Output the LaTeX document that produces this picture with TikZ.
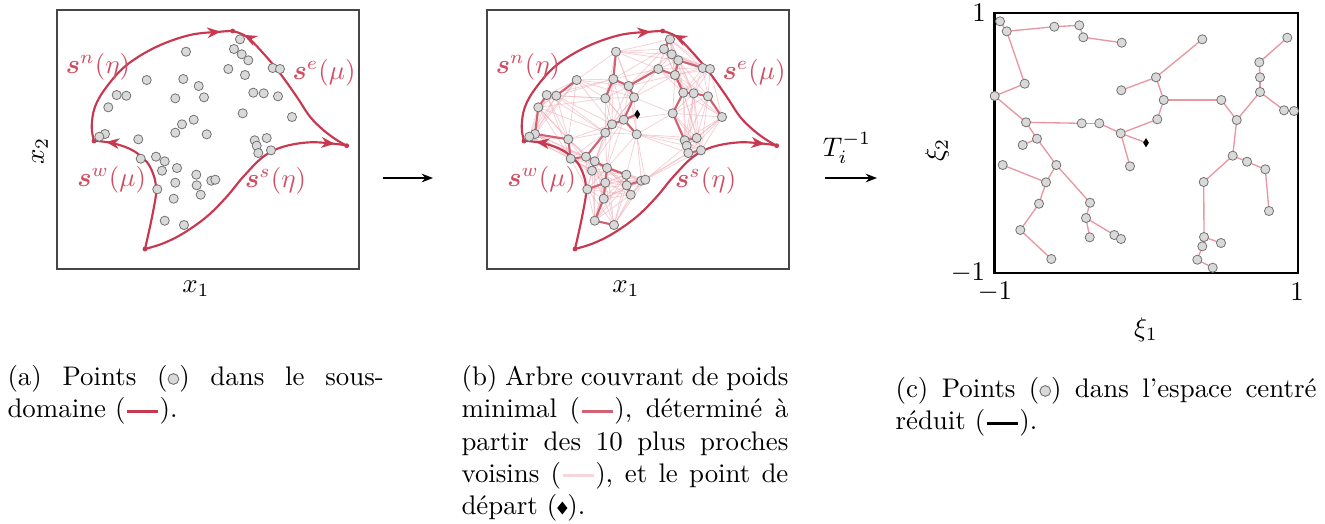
\documentclass[tikz,border=0pt]{standalone}
\usepackage{amsmath,amssymb}
\usetikzlibrary{arrows.meta,decorations.markings,shapes.geometric}
\definecolor{bnd}{RGB}{200,56,80}
\definecolor{bndtxt}{RGB}{208,78,98}
\definecolor{mstc}{RGB}{208,98,115}
\definecolor{knnc}{RGB}{236,172,182}
\definecolor{knnleg}{RGB}{246,214,220}
\definecolor{treec}{RGB}{234,150,162}
\definecolor{ptfill}{RGB}{217,217,217}
\definecolor{ptdraw}{RGB}{115,115,115}
\definecolor{boxc}{RGB}{70,70,70}
\pgfdeclarelayer{knnl}
\pgfdeclarelayer{mstl}
\pgfsetlayers{knnl,mstl,main}
\newcount\knk \newcount\kncnt
\newdimen\kndx \newdimen\kndy \newdimen\kndd
\newcommand{\knncount}[2]{%
  \kncnt=0 \knk=1
  \loop
    \ifnum\knk=#1\relax\else
      \ifdim\csname kd#1:\the\knk\endcsname<\csname kd#1:#2\endcsname\relax
        \advance\kncnt by 1\relax
      \fi
    \fi
    \advance\knk by 1\relax
  \ifnum\knk<50\relax\repeat}
\newcommand{\legpt}{\tikz[baseline=-2.5pt]\draw[ptdraw,fill=ptfill,line width=0.35pt] (0pt,0pt) circle (2pt);}
\newcommand{\legline}[2]{\tikz[baseline=-2.5pt]\draw[#1,line width=#2] (0pt,0pt) -- (11.5pt,0pt);}
\newcommand{\legdia}{\tikz[baseline=-2.5pt]\fill[black] (0pt,2.4pt) -- (1.9pt,0pt) -- (0pt,-2.4pt) -- (-1.9pt,0pt) -- cycle;}
\def\PTS{240.0/39.3, 234.0/49.0, 241.7/54.3, 248.3/60.3, 186.0/51.7, 228.3/69.0, 245.0/75.0, 272.7/68.0, 280.0/69.0, 146.7/80.0, 183.3/79.0, 198.7/86.0, 116.7/95.0, 126.3/95.7, 175.3/98.3, 204.0/97.3, 253.3/92.7, 263.7/93.3, 278.0/96.3, 108.3/107.3, 242.7/113.3, 292.0/117.0, 182.0/124.3, 193.7/119.7, 175.3/132.7, 206.7/134.3, 105.0/134.0, 99.3/136.7, 138.3/139.3, 254.7/140.3, 266.7/138.0, 256.7/145.7, 258.3/153.0, 271.0/150.3, 140.7/158.7, 156.0/156.7, 164.7/161.3, 177.0/168.0, 162.0/170.7, 196.3/174.7, 175.3/182.7, 196.7/185.3, 211.3/180.7, 215.3/179.7, 157.3/189.3, 200.7/194.7, 173.7/198.7, 164.7/220.7, 184.0/225.0}
\def\CPTS{1287.3/37.7, 1259.3/62.3, 1260.0/77.3, 1260.0/92.0, 1202.3/39.3, 1221.3/100.0, 1236.7/120.0, 1284.0/110.3, 1294.0/111.0, 1121.7/42.7, 1156.0/77.3, 1163.7/100.0, 1079.3/25.3, 1083.3/37.3, 1121.3/90.3, 1157.3/119.3, 1232.7/155.7, 1247.0/161.7, 1265.3/169.3, 1054.3/26.7, 1203.7/182.0, 1269.0/211.0, 1099.3/123.3, 1120.7/133.3, 1081.7/123.3, 1130.0/166.3, 1006.7/31.3, 1000.0/21.3, 1024.7/83.7, 1204.0/237.0, 1221.0/243.0, 1202.3/246.3, 1197.3/259.7, 1212.7/267.7, 994.7/96.0, 1026.0/122.3, 1037.0/138.7, 1056.3/165.0, 1022.7/145.0, 1090.0/202.7, 1046.0/182.3, 1086.0/218.0, 1114.3/235.0, 1121.0/239.0, 1002.7/165.0, 1089.7/237.3, 1039.0/203.7, 1020.3/230.0, 1051.3/259.0}
\def\MST{28/27, 27/20, 20/13, 13/14, 14/10, 27/29, 29/35, 35/36, 36/25, 25/23, 23/24, 24/16, 16/12, 12/11, 11/15, 11/5, 12/6, 6/7, 7/4, 4/3, 3/2, 2/1, 4/8, 8/9, 7/17, 17/18, 18/19, 19/22, 17/21, 21/30, 30/31, 30/32, 32/33, 33/34, 24/26, 36/37, 37/39, 37/38, 38/41, 41/45, 41/47, 47/48, 48/49, 38/40, 40/42, 42/46, 42/43, 43/44, 24/D}
\newcommand{\domaincurves}[1]{%
  \draw[bndline,arrmark=0.94] plot[smooth,tension=0.6] coordinates {(94,141) (91.7,126.7) (95,106.7) (106.7,86.7) (126.7,65) (156.7,46.7) (190,35) (220,31.7) (232.7,31)};
  \draw[bndline,arrmark=0.93] plot[smooth,tension=0.6] coordinates {(346.7,145.7) (336.7,140) (323.3,130) (310,116.7) (296.7,96.7) (280,73.3) (263.3,53.3) (246.7,36.7) (232.7,31)};
  \draw[bndline,arrmark=0.95] plot[smooth,tension=0.6] coordinates {(145,249) (163.3,243.3) (183.3,233.3) (206.7,216.7) (226.7,196.7) (243.3,176.7) (263.3,156.7) (283.3,146.7) (310,142.3) (336.7,144) (346.7,145.7)};
  \draw[bndline,arrmark=0.92] plot[smooth,tension=0.6] coordinates {(145,249) (150,226.7) (154,206.7) (156,193.3) (155,180) (150,166.7) (143.3,158.3) (133.3,150.7) (121.7,145.7) (108.3,142.3) (94,140.7)};
  \fill[bnd] (94,141) circle (0.9pt);
  \fill[bnd] (232.7,31) circle (0.9pt);
  \fill[bnd] (346.7,145.7) circle (0.9pt);
  \fill[bnd] (145,249) circle (0.9pt);
  \node[lbl] (#1sn) at (98,66.7) {$\boldsymbol{s}^n(\eta)$};
  \node[lbl] (#1se) at (324,72.3) {$\boldsymbol{s}^e(\mu)$};
  \node[lbl] (#1sw) at (111.7,180) {$\boldsymbol{s}^w(\mu)$};
  \node[lbl] (#1ss) at (275.7,180.7) {$\boldsymbol{s}^s(\eta)$};
  \draw[boxc,line width=0.5pt] (57,10) rectangle (359,269);
  \node (#1x1) at (196,289) {$x_1$};
}
\begin{document}
\begin{tikzpicture}[x=0.372pt,y=-0.372pt,
  pt/.style={circle,draw=ptdraw,fill=ptfill,line width=0.3pt,inner sep=0pt,minimum size=3.4pt},
  dia/.style={diamond,fill=black,inner sep=0pt,minimum width=2.3pt,minimum height=3.6pt},
  bndline/.style={bnd,line width=0.8pt},
  arrmark/.style={postaction={decorate,decoration={markings,mark=at position #1 with {\arrow{Stealth[length=5pt,width=4pt]}}}}},
  lbl/.style={text=bndtxt,inner sep=0pt},
  knnline/.style={knnc,line width=0.3pt,draw opacity=0.55},
  mstline/.style={mstc,line width=0.8pt},
  treeline/.style={treec,line width=0.5pt},
  capt/.style={anchor=north west,inner sep=0pt,align=justify},
  flow/.style={line width=0.6pt,-{Stealth[length=4.2pt,width=3.2pt]}}]
\useasboundingbox (0,0) rectangle (1325,523);
% captions
\node[capt,text width=140pt] (capa) at (7,365) {(a) Points (\legpt) dans le sous-\linebreak domaine (\legline{bnd}{1.2pt}).};
\node[capt,text width=121.6pt] (capb) at (461,365) {(b) Arbre couvrant de poids\linebreak minimal (\legline{mstc}{1.2pt}), déterminé à\linebreak partir des 10 plus proches\linebreak voisins (\legline{knnleg}{1.2pt}), et le point de\linebreak départ (\legdia).};
\node[capt,text width=156.6pt] (capc) at (895,377) {(c) Points (\legpt) dans l'espace centré\linebreak réduit (\legline{black}{1.2pt}).};
% store coordinates for kNN
\foreach \x/\y [count=\i] in \PTS {%
  \expandafter\xdef\csname ptx\i\endcsname{\x}%
  \expandafter\xdef\csname pty\i\endcsname{\y}}
\foreach \i in {1,...,49}{\foreach \j in {1,...,49}{%
  \kndx=\dimexpr(\csname ptx\i\endcsname pt-\csname ptx\j\endcsname pt)/4\relax
  \kndy=\dimexpr(\csname pty\i\endcsname pt-\csname pty\j\endcsname pt)/4\relax
  \kndd=\dimexpr\kndx*\number\kndx/65536+\kndy*\number\kndy/65536\relax
  \expandafter\xdef\csname kd\i:\j\endcsname{\the\kndd}}}
\foreach \i in {1,...,49}{\foreach \j in {1,...,49}{%
  \ifnum\i=\j\relax\else
    \knncount{\i}{\j}%
    \ifnum\kncnt<10\relax
      \ifnum\i<\j\relax \expandafter\xdef\csname ke\i:\j\endcsname{1}%
      \else \expandafter\xdef\csname ke\j:\i\endcsname{1}\fi
    \fi
  \fi}}
% panel (a)
\domaincurves{a}
\node[rotate=90] (ax2) at (40,151) {$x_2$};
\foreach \x/\y [count=\i] in \PTS {\node[pt] (a\i) at (\x,\y) {};}
% arrow a->b
\coordinate (f1s) at (383,178);
\coordinate (f1e) at (433,178);
\draw[flow] (f1s) -- (f1e);
% panel (b)
\begin{scope}[shift={(430,0)}]
\domaincurves{b}
\end{scope}
\foreach \x/\y [count=\i] in \PTS {\node[pt] (b\i) at (\x+430,\y) {};}
\node[dia] (bD) at (637.3,114.3) {};
\begin{pgfonlayer}{knnl}
\foreach \i in {1,...,49}{\foreach \j in {1,...,49}{%
  \ifcsname ke\i:\j\endcsname \draw[knnline] (b\i.center) -- (b\j.center);\fi}}
\end{pgfonlayer}
\begin{pgfonlayer}{mstl}
\foreach \u/\v in \MST {\draw[mstline] (b\u.center) -- (b\v.center);}
\end{pgfonlayer}
% transform arrow
\coordinate (f2s) at (825,178);
\coordinate (f2e) at (877,178);
\draw[flow] (f2s) -- (f2e);
\node (T) at (847,148) {$T_i^{-1}$};
% panel (c)
\draw[black,line width=0.9pt] (994.3,12.7) rectangle (1297.7,272.7);
\node (t1) at (979,13) {$1$};
\node (t2) at (968,273) {$-1$};
\node (t3) at (995,292) {$-1$};
\node (t4) at (1297,292) {$1$};
\node (xi1) at (1146,330) {$\xi_1$};
\node[rotate=90] (xi2) at (937,150) {$\xi_2$};
\foreach \x/\y [count=\i] in \CPTS {\node[pt] (c\i) at (\x,\y) {};}
\node[dia] (cD) at (1146,142.7) {};
\begin{pgfonlayer}{mstl}
\foreach \u/\v in \MST {\draw[treeline] (c\u.center) -- (c\v.center);}
\end{pgfonlayer}
\end{tikzpicture}
\end{document}
